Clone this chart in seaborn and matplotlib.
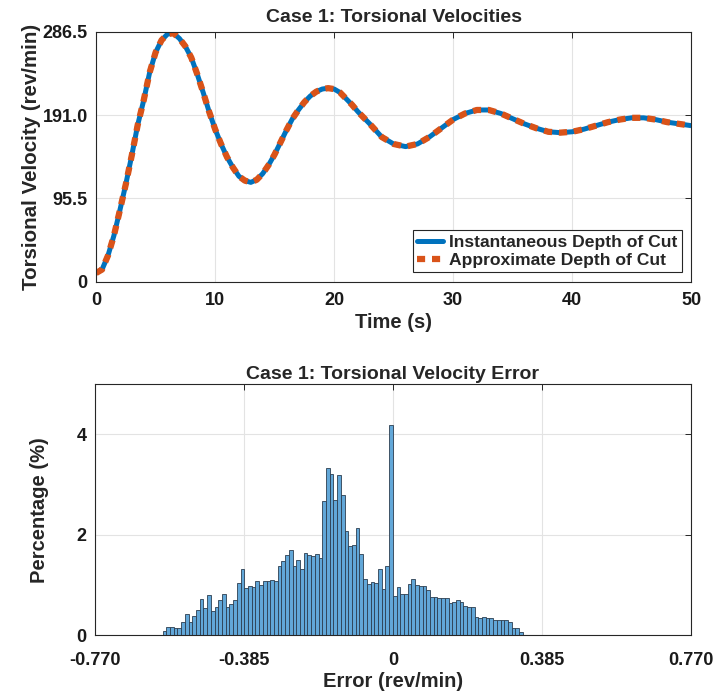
import matplotlib
matplotlib.use('Agg')
from matplotlib import pyplot as plt
from matplotlib.lines import Line2D
import seaborn as sns
import pandas as pd
import numpy as np

# Torsional velocity (rev/min)
time_s = [0, 0.5, 1.0, 1.5, 2.0, 2.5, 3.0, 3.5, 4.0, 4.5, 5.0, 5.5, 6.0, 6.5, 7.0,
          7.5, 8.0, 8.5, 9.0, 9.5, 10.0, 10.5, 11.0, 11.5, 12.0, 12.5, 13.0, 13.5,
          14.0, 14.5, 15.0, 15.5, 16.0, 16.5, 17.0, 17.5, 18.0, 18.5, 19.0, 19.5,
          20.0, 20.5, 21.0, 21.5, 22.0, 23, 24, 25, 26, 27, 28, 29, 30, 31, 32, 33,
          34, 35, 36, 37, 38, 39, 40, 41, 42, 43, 44, 45, 46, 47, 48, 49, 50]
velocity_inst = [10, 14, 30, 53, 82, 112, 145, 180, 208, 240, 263, 277, 284, 285, 279,
                 270, 257, 238, 217, 195, 175, 158, 143, 131, 121, 116, 114, 117,
                 124, 134, 146, 160, 174, 187, 197, 206, 213, 218, 221, 222,
                 221, 217, 210, 203, 195, 181, 166, 158, 155, 158, 166, 176, 186, 193, 197, 197,
                 193, 187, 181, 176, 172, 171, 172, 175, 179, 183, 186, 188, 188, 186, 183, 181, 179]
velocity_approx = list(velocity_inst)

# Error histogram: percentage per bin, bins of 0.0096 ending at 0 for bin 62
bin_width = 0.0096
n_left = 62
err_pct = [0.08, 0.17, 0.17, 0.14, 0.15, 0.26, 0.42, 0.26, 0.38, 0.51,
           0.72, 0.54, 0.80, 0.48, 0.57, 0.71, 0.82, 0.56, 0.62, 0.70,
           1.04, 1.32, 0.94, 0.98, 0.96, 1.09, 1.01, 1.09, 1.09, 1.10,
           1.09, 1.39, 1.48, 1.60, 1.69, 1.38, 1.50, 1.32, 1.64, 1.60,
           1.58, 1.62, 1.54, 2.68, 3.34, 3.22, 2.70, 3.19, 2.79, 2.08,
           1.77, 1.80, 2.14, 1.62, 1.12, 1.03, 1.07, 1.05, 1.33, 0.93,
           1.38, 4.18, 0.79, 0.96, 0.83, 0.82, 1.02, 1.12, 1.00, 0.98,
           0.99, 0.91, 0.77, 0.77, 0.75, 0.75, 0.75, 0.65, 0.67, 0.71,
           0.67, 0.59, 0.57, 0.57, 0.37, 0.35, 0.37, 0.35, 0.34, 0.31,
           0.31, 0.31, 0.31, 0.27, 0.14, 0.14, 0.07]

vel_ticks = [0, 95.5, 191.0, 286.5]
vel_tick_labels = ['0', '95.5', '191.0', '286.5']
err_ticks = [-0.770, -0.385, 0, 0.385, 0.770]
err_tick_labels = ['-0.770', '-0.385', '0', '0.385', '0.770']

BLUE = '#0072BD'
ORANGE = '#D95319'


def style_axes(ax, xpad):
    ax.tick_params(direction='in', top=True, right=True, length=4.5, width=0.7,
                   labelsize=13, colors='#262626')
    ax.tick_params(axis='x', pad=xpad)
    ax.tick_params(axis='y', pad=6)
    for lab in ax.get_xticklabels() + ax.get_yticklabels():
        lab.set_fontweight('bold')
        lab.set_color('#1a1a1a')
    for sp in ax.spines.values():
        sp.set_color('#262626')
        sp.set_linewidth(0.8)
    ax.grid(True, color='#e3e3e3', linewidth=0.8)
    ax.set_axisbelow(True)


def main():
    sns.set_theme(style='white')
    plt.rcParams['font.family'] = ['Liberation Sans', 'DejaVu Sans']

    fig = plt.figure(figsize=(7.17, 6.94), dpi=100)
    ax1 = fig.add_axes([0.134, 0.594, 0.830, 0.360])
    ax2 = fig.add_axes([0.1325, 0.0846, 0.831, 0.3617])

    # Top: velocities
    df = pd.DataFrame({'t': time_s, 'inst': velocity_inst, 'approx': velocity_approx})
    sns.lineplot(data=df, x='t', y='inst', ax=ax1, color=BLUE, linewidth=3.6,
                 solid_capstyle='butt')
    sns.lineplot(data=df, x='t', y='approx', ax=ax1, color=ORANGE, linewidth=4.5)
    ax1.lines[1].set_dashes((1.3, 1.1))
    ax1.lines[1].set_dash_capstyle('butt')
    ax1.set_xlim(0, 50)
    ax1.set_ylim(0, 286.5)
    ax1.set_xticks([0, 10, 20, 30, 40, 50])
    ax1.set_yticks(vel_ticks)
    ax1.set_yticklabels(vel_tick_labels)
    ax1.set_title('Case 1: Torsional Velocities', fontsize=14, fontweight='bold', pad=7)
    ax1.set_xlabel('Time (s)', fontsize=14.5, fontweight='bold', labelpad=3)
    ax1.set_ylabel('Torsional Velocity (rev/min)', fontsize=14.8, fontweight='bold')
    ax1.yaxis.set_label_coords(-0.093, 0.5)
    style_axes(ax1, 7.5)
    handles = [Line2D([], [], color=BLUE, linewidth=3.6),
               Line2D([], [], color=ORANGE, linewidth=4.5, dashes=(1.3, 1.1))]
    leg = ax1.legend(handles, ['Instantaneous Depth of Cut', 'Approximate Depth of Cut'],
                     loc='lower right', fancybox=False, framealpha=1,
                     edgecolor='#262626', handlelength=1.45, borderpad=0.25,
                     labelspacing=0.15, handletextpad=0.35, borderaxespad=0.55,
                     prop={'weight': 'bold', 'size': 12.6})
    leg.get_frame().set_linewidth(0.8)

    # Bottom: error histogram
    edges = (np.arange(len(err_pct) + 1) - n_left) * bin_width
    centers = (edges[:-1] + edges[1:]) / 2
    dfh = pd.DataFrame({'err': centers, 'pct': err_pct})
    sns.histplot(data=dfh, x='err', weights='pct', bins=list(edges), ax=ax2,
                 color='#62A7D8', alpha=1, edgecolor='#2c3e50', linewidth=0.6)
    ax2.set_xlim(-0.770, 0.770)
    ax2.set_ylim(0, 5)
    ax2.set_xticks(err_ticks)
    ax2.set_xticklabels(err_tick_labels)
    ax2.set_yticks([0, 2, 4])
    ax2.set_title('Case 1: Torsional Velocity Error', fontsize=14, fontweight='bold', pad=4)
    ax2.set_xlabel('Error (rev/min)', fontsize=14.5, fontweight='bold', labelpad=2)
    ax2.set_ylabel('Percentage (%)', fontsize=14.5, fontweight='bold')
    ax2.yaxis.set_label_coords(-0.078, 0.5)
    style_axes(ax2, 12)

    fig.savefig('out.png', dpi=100)


if __name__ == "__main__":
    main()
